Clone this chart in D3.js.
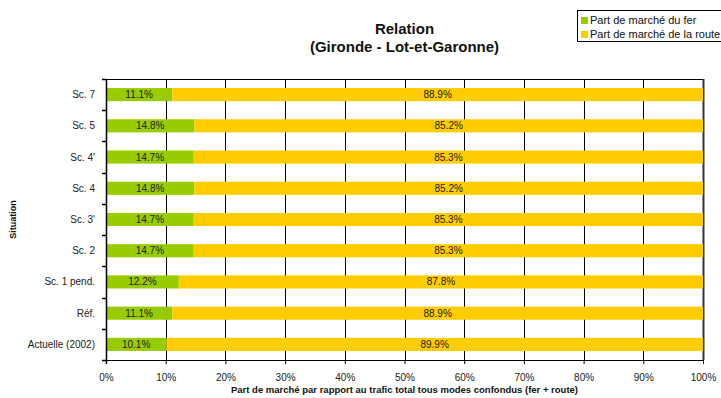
<!DOCTYPE html>
<html><head><meta charset="utf-8">
<script src="https://cdn.jsdelivr.net/npm/d3@7"></script>
<style>body{margin:0;background:#fff}svg{display:block;font-family:"Liberation Sans",Arial,sans-serif}</style>
</head><body><svg id="c" width="721" height="398"></svg>
<script>
const categories = ["Sc. 7","Sc. 5","Sc. 4'","Sc. 4","Sc. 3'","Sc. 2","Sc. 1 pend.","Réf.","Actuelle (2002)"];
const fer = [11.1,14.8,14.7,14.8,14.7,14.7,12.2,11.1,10.1];
const route = [88.9,85.2,85.3,85.2,85.3,85.3,87.8,88.9,89.9];
const seriesNames = ["Part de marché du fer","Part de marché de la route"];
const xTicks = [0,10,20,30,40,50,60,70,80,90,100];
const colors = ["#99CC00","#FFCC00"];

const svg = d3.select("#c");
const L=106,R=703,T=79,B=360;
const x = d3.scaleLinear().domain([0,100]).range([L,R]);
const y = d3.scaleBand().domain(categories).range([T,B]).paddingInner(0.58).paddingOuter(0.29);
const yb = d3.scaleBand().domain(categories).range([T,B]);

// gridlines
svg.append("g").selectAll("line").data(xTicks.slice(1,-1)).join("line")
 .attr("x1",d=>Math.round(x(d))+0.5).attr("x2",d=>Math.round(x(d))+0.5)
 .attr("y1",T).attr("y2",B).attr("stroke","#000").attr("stroke-width",1);
svg.append("line").attr("x1",L).attr("x2",R).attr("y1",T+0.5).attr("y2",T+0.5).attr("stroke","#000");
svg.append("line").attr("x1",R+0.5).attr("x2",R+0.5).attr("y1",T).attr("y2",B).attr("stroke","#333").attr("stroke-width",2);

// bars
const rows = categories.map((c,i)=>({c,f:fer[i],r:route[i]}));
const g = svg.append("g");
rows.forEach(d=>{
  g.append("rect").attr("x",x(0)).attr("y",y(d.c)).attr("width",x(d.f)-x(0)).attr("height",y.bandwidth()).attr("fill",colors[0]);
  g.append("rect").attr("x",x(d.f)).attr("y",y(d.c)).attr("width",x(d.f+d.r)-x(d.f)).attr("height",y.bandwidth()).attr("fill",colors[1]);
  g.append("text").attr("x",(x(0)+x(d.f))/2).attr("y",y(d.c)+y.bandwidth()/2).attr("dy","0.35em")
   .attr("text-anchor","middle").attr("font-size",10).attr("fill","#222").text(d.f.toFixed(1)+"%");
  g.append("text").attr("x",(x(d.f)+x(d.f+d.r))/2).attr("y",y(d.c)+y.bandwidth()/2).attr("dy","0.35em")
   .attr("text-anchor","middle").attr("font-size",10).attr("fill","#222").text(d.r.toFixed(1)+"%");
});

// x axis
const xa = svg.append("g").attr("transform",`translate(0,${B})`)
 .call(d3.axisBottom(x).tickValues(xTicks).tickFormat(d=>d+"%").tickSize(4).tickPadding(10));
xa.select(".domain").attr("d",`M${L},0.5H${R}`).attr("stroke","#000");
xa.selectAll("text").attr("font-size",10).attr("fill","#222").attr("font-family","Liberation Sans, Arial, sans-serif");

// y axis
const ya = svg.append("g").attr("transform",`translate(${L},0)`);
ya.append("line").attr("x1",0.5).attr("x2",0.5).attr("y1",T).attr("y2",B+4).attr("stroke","#000").attr("stroke-width",1.5);
const bounds = categories.map(c=>yb(c)).concat([B]);
ya.selectAll(".tk").data(bounds).join("line").attr("class","tk")
 .attr("x1",-4).attr("x2",0).attr("y1",d=>Math.round(d)+0.5).attr("y2",d=>Math.round(d)+0.5).attr("stroke","#000").attr("stroke-width",1.5);
ya.selectAll(".lb").data(categories).join("text").attr("class","lb")
 .attr("x",-11).attr("y",d=>yb(d)+yb.bandwidth()/2).attr("dy","0.35em").attr("text-anchor","end")
 .attr("font-size",10).attr("fill","#222").text(d=>d);

// titles
svg.append("text").attr("x",(L+R)/2).attr("y",34).attr("text-anchor","middle").attr("font-size",15).attr("font-weight","bold").attr("fill","#111").text("Relation");
svg.append("text").attr("x",(L+R)/2).attr("y",52).attr("text-anchor","middle").attr("font-size",15).attr("font-weight","bold").attr("fill","#111").text("(Gironde - Lot-et-Garonne)");
svg.append("text").attr("x",(L+R)/2).attr("y",393).attr("text-anchor","middle").attr("font-size",9.5).attr("font-weight","bold").attr("fill","#111").text("Part de marché par rapport au trafic total tous modes confondus (fer + route)");
svg.append("text").attr("transform","translate(16,"+((T+B)/2)+") rotate(-90)").attr("text-anchor","middle").attr("font-size",9).attr("font-weight","bold").attr("fill","#111").text("Situation");

// legend
const lg = svg.append("g");
lg.append("rect").attr("x",577.5).attr("y",10.5).attr("width",150).attr("height",31).attr("fill","#fff").attr("stroke","#000");
seriesNames.forEach((n,i)=>{
  lg.append("rect").attr("x",581).attr("y",17+i*14).attr("width",7).attr("height",7).attr("fill",colors[i]);
  lg.append("text").attr("x",590).attr("y",20.5+i*14).attr("dy","0.35em").attr("font-size",11).attr("fill","#111").text(n);
});
</script></body></html>
